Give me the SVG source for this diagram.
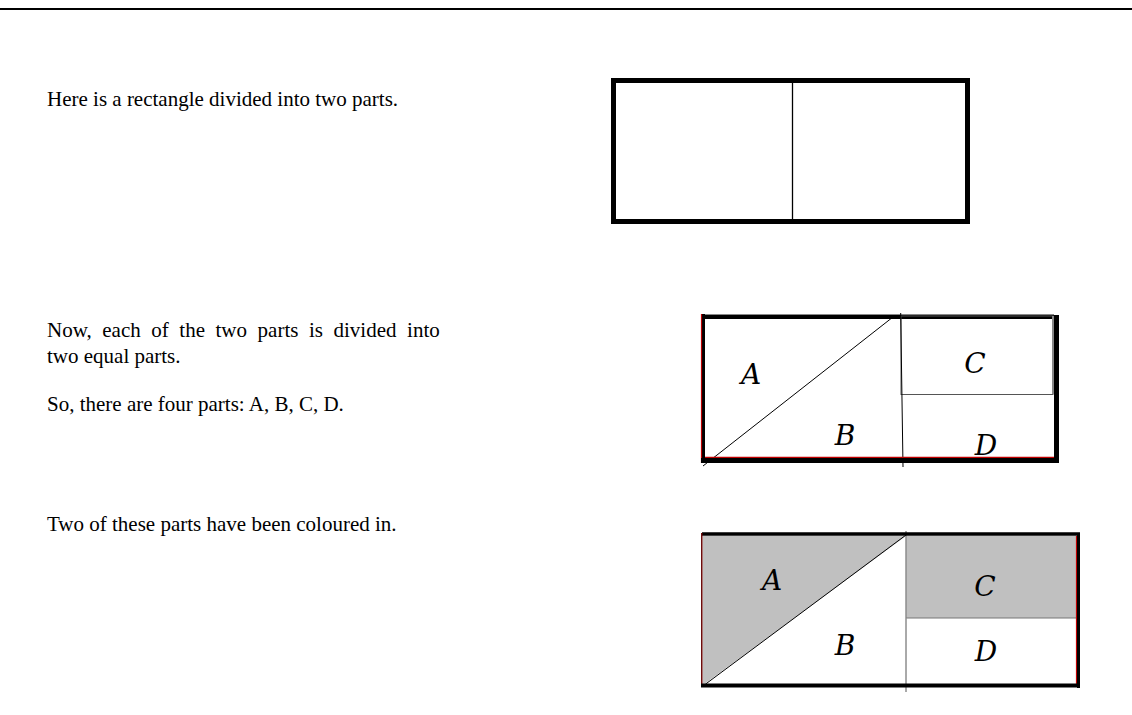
<svg xmlns="http://www.w3.org/2000/svg" width="1132" height="715" viewBox="0 0 1132 715">
<style>
.t{font-family:"Liberation Serif","Times New Roman",serif;font-size:21px;fill:#000}
.lbl{font-family:"DejaVu Serif","Liberation Serif",serif;font-style:italic;font-size:28px;fill:#000;text-anchor:middle}
.thin{stroke:#000;stroke-width:1;fill:none}
.gr{stroke:#555;stroke-width:1;fill:none}
.red{stroke:#c00000;stroke-width:1.2;fill:none}
</style>
<rect width="1132" height="715" fill="#fff"/>
<line x1="0" y1="9" x2="1132" y2="9" stroke="#000" stroke-width="2"/>

<g id="texts">
<text class="t" x="47" y="106">Here is a rectangle divided into two parts.</text>
<text class="t" x="47" y="337" word-spacing="5.3">Now, each of the two parts is divided into</text>
<text class="t" x="47" y="363">two equal parts.</text>
<text class="t" x="47" y="411">So, there are four parts: A, B, C, D.</text>
<text class="t" x="47" y="531">Two of these parts have been coloured in.</text>
</g>

<g id="figure1">
<rect x="613.5" y="80.5" width="354" height="141" fill="#fff" stroke="#000" stroke-width="5"/>
<line x1="792.5" y1="83" x2="792.5" y2="219" stroke="#000" stroke-width="1.3"/>
</g>

<g id="figure2">
<line x1="702" y1="314.5" x2="1054" y2="314.5" stroke="#888" stroke-width="1"/>
<line x1="703" y1="317" x2="1059" y2="317" stroke="#000" stroke-width="4"/>
<rect x="901" y="316" width="152" height="78.5" class="gr"/>
<line x1="1053" y1="316" x2="1053" y2="394" stroke="#888" stroke-width="2"/>
<line x1="900.7" y1="313" x2="903" y2="467" class="thin"/>
<line x1="703" y1="466" x2="893" y2="317" class="thin"/>
<line x1="703.5" y1="314" x2="703.5" y2="463" stroke="#000" stroke-width="3"/>
<line x1="701.5" y1="314" x2="701.5" y2="463" class="red"/>
<line x1="701" y1="460.5" x2="1059" y2="460.5" stroke="#000" stroke-width="5"/>
<line x1="705" y1="457.3" x2="1054" y2="457.3" class="red"/>
<line x1="1056.5" y1="315" x2="1056.5" y2="463" stroke="#000" stroke-width="5"/>
<text class="lbl" x="751" y="384">A</text>
<text class="lbl" x="975" y="373">C</text>
<text class="lbl" x="845" y="445">B</text>
<text class="lbl" x="986" y="455">D</text>
</g>

<g id="figure3">
<polygon points="703,536 906,536 703,685" fill="#c0c0c0"/>
<rect x="906.5" y="536" width="170" height="82" fill="#c0c0c0"/>
<line x1="906.5" y1="618" x2="1076" y2="618" stroke="#777" stroke-width="1"/>
<line x1="906" y1="531" x2="906" y2="692" class="gr"/>
<line x1="906" y1="535" x2="703" y2="686" class="thin"/>
<line x1="702" y1="534" x2="1080" y2="534" stroke="#000" stroke-width="3.5"/>
<line x1="701.8" y1="533" x2="701.8" y2="687" stroke="#600" stroke-width="1.5"/>
<line x1="1076.5" y1="536" x2="1076.5" y2="684" class="red"/>
<line x1="1078.5" y1="533" x2="1078.5" y2="688" stroke="#000" stroke-width="3"/>
<line x1="701" y1="685.5" x2="1080" y2="685.5" stroke="#000" stroke-width="4"/>
<text class="lbl" x="772" y="590">A</text>
<text class="lbl" x="985" y="596">C</text>
<text class="lbl" x="845" y="655">B</text>
<text class="lbl" x="986" y="661">D</text>
</g>
</svg>
